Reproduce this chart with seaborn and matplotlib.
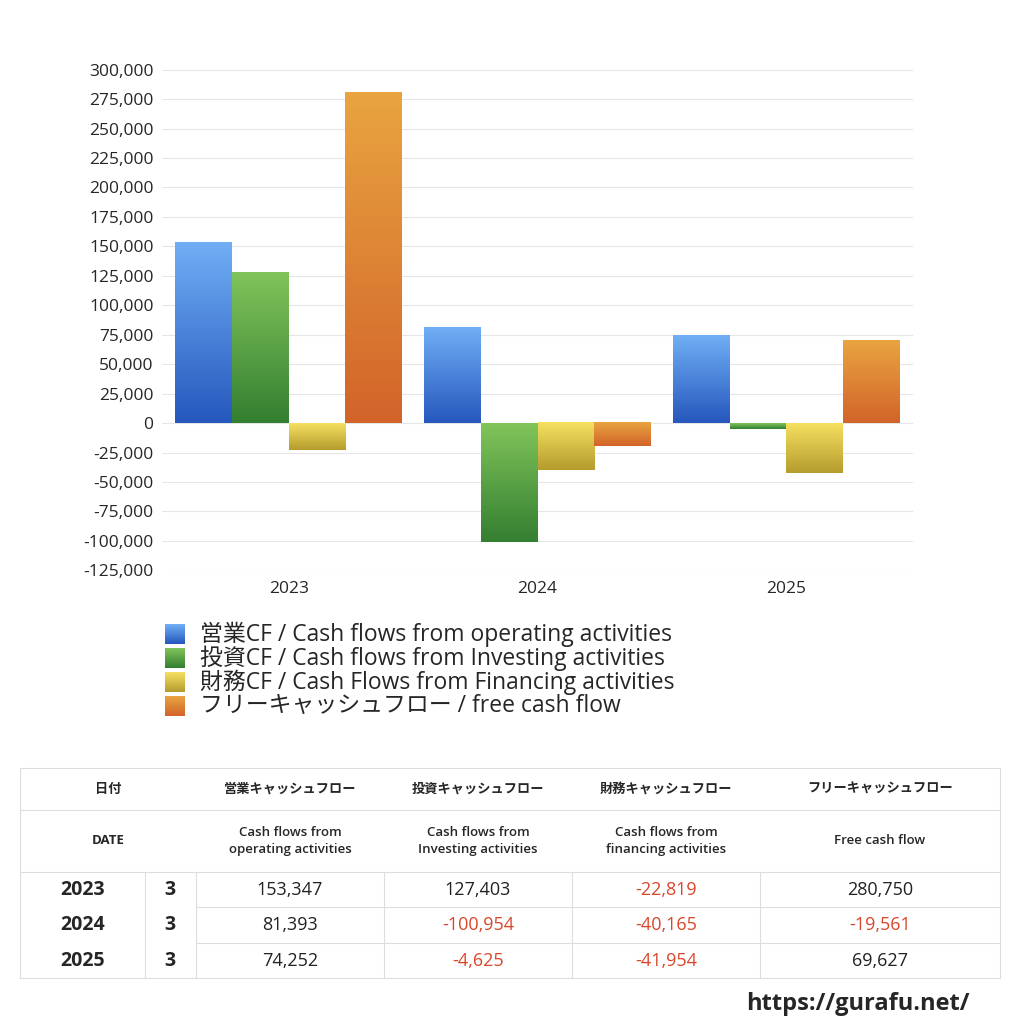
import matplotlib.pyplot as plt
import matplotlib.colors as mcolors
import pandas as pd
import seaborn as sns
import numpy as np

years = ['2023', '2024', '2025']
months = ['3', '3', '3']
operating = [153347, 81393, 74252]
investing = [127403, -100954, -4625]
financing = [-22819, -40165, -41954]
free_cf = [280750, -19561, 69627]

series_names = ['営業CF / Cash flows from operating activities',
                '投資CF / Cash flows from Investing activities',
                '財務CF / Cash Flows from Financing activities',
                'フリーキャッシュフロー / free cash flow']
grad = [('#70aef5', '#2658bd'), ('#80c45a', '#347f31'),
        ('#f5e060', '#b59c2e'), ('#e9a440', '#d2642a')]

df = pd.DataFrame({'year': years * 4,
                   'value': operating + investing + financing + free_cf,
                   'series': np.repeat(series_names, 3)})

sns.set_theme(style='white')
plt.rcParams['font.family'] = ['Open Sans', 'Noto Sans CJK JP', 'DejaVu Sans']

fig = plt.figure(figsize=(10.24, 10.24), dpi=100)
ax = fig.add_axes([0.158, 0.443, 0.734, 0.489])
sns.barplot(data=df, x='year', y='value', hue='series', width=0.91, gap=0,
            palette=[g[1] for g in grad], ax=ax, legend=False)

# gradient fill each bar
for i, cont in enumerate(ax.containers):
    cmap = mcolors.LinearSegmentedColormap.from_list('g', [grad[i][0], grad[i][1]])
    for p in cont.patches:
        x0, y0 = p.get_x(), p.get_y()
        w, h = p.get_width(), p.get_height()
        ylo, yhi = min(y0, y0 + h), max(y0, y0 + h)
        p.set_visible(False)
        ax.imshow(np.linspace(0, 1, 100).reshape(-1, 1), cmap=cmap, aspect='auto',
                  extent=(x0, x0 + w, ylo, yhi), origin='upper', zorder=2)
ax.set_ylim(-125000, 300000)
ax.set_xlim(-0.51, 2.51)

ticks = np.arange(-125000, 300001, 25000)
ax.set_yticks(ticks)
ax.set_yticklabels([f'{t:,}' for t in ticks], fontsize=12.5)
ax.tick_params(axis='x', labelsize=12.5, length=0, pad=8)
ax.tick_params(axis='y', length=0, pad=6)
ax.grid(axis='y', color='#e6e6e6', lw=0.8, zorder=0)
ax.set_axisbelow(True)
for s in ax.spines.values():
    s.set_visible(False)
ax.set_xlabel('')
ax.set_ylabel('')

# legend
for i, name in enumerate(series_names):
    y = 1 - (634 + 24 * i) / 1024
    cmap = mcolors.LinearSegmentedColormap.from_list('g', [grad[i][0], grad[i][1]])
    lax = fig.add_axes([165 / 1024, y - 0.0095, 0.019, 0.019])
    lax.imshow(np.linspace(0, 1, 50).reshape(-1, 1), cmap=cmap, aspect='auto')
    lax.axis('off')
    fig.text(200 / 1024, y, name, fontsize=16.5, va='center')

# table
def fx(px):
    return px / 1024

def fy(py):
    return 1 - py / 1024

line_c = '#dddddd'
L, R = 20, 1000
for yy in [768, 810, 872, 978]:
    fig.add_artist(plt.Line2D([fx(L), fx(R)], [fy(yy), fy(yy)], color=line_c, lw=0.8))
for yy in [907, 943]:
    fig.add_artist(plt.Line2D([fx(196), fx(R)], [fy(yy), fy(yy)], color=line_c, lw=0.8))
for xx in [L, R]:
    fig.add_artist(plt.Line2D([fx(xx), fx(xx)], [fy(768), fy(978)], color=line_c, lw=0.8))
for xx in [145, 196, 384, 572, 760]:
    fig.add_artist(plt.Line2D([fx(xx), fx(xx)], [fy(872), fy(978)], color=line_c, lw=0.8))

centers = [290, 478, 666, 880]
head1 = ['営業キャッシュフロー', '投資キャッシュフロー', '財務キャッシュフロー', 'フリーキャッシュフロー']
head2 = ['Cash flows from\noperating activities', 'Cash flows from\nInvesting activities',
         'Cash flows from\nfinancing activities', 'Free cash flow']
fig.text(fx(108), fy(789), '日付', fontsize=9.5, ha='center', va='center', weight='bold')
fig.text(fx(108), fy(841), 'DATE', fontsize=9.5, ha='center', va='center', weight='bold')
for c, h1, h2 in zip(centers, head1, head2):
    fig.text(fx(c), fy(789), h1, fontsize=9.5, ha='center', va='center', weight='bold')
    fig.text(fx(c), fy(841), h2, fontsize=9.5, ha='center', va='center', weight='semibold',
             linespacing=1.5)

cols = [operating, investing, financing, free_cf]
for r, (yr, mo) in enumerate(zip(years, months)):
    yy = fy(890 + 35.5 * r)
    fig.text(fx(83), yy, yr, fontsize=14, ha='center', va='center', weight='bold')
    fig.text(fx(170), yy, mo, fontsize=14, ha='center', va='center', weight='bold')
    for c, col in zip(centers, cols):
        v = col[r]
        fig.text(fx(c), yy, f'{v:,}', fontsize=13, ha='center', va='center',
                 color='#d9472b' if v < 0 else '#222222')

fig.text(fx(970), fy(1004), 'https://gurafu.net/', fontsize=17, ha='right', va='center',
         weight='bold')

plt.savefig('out.png', dpi=100)
